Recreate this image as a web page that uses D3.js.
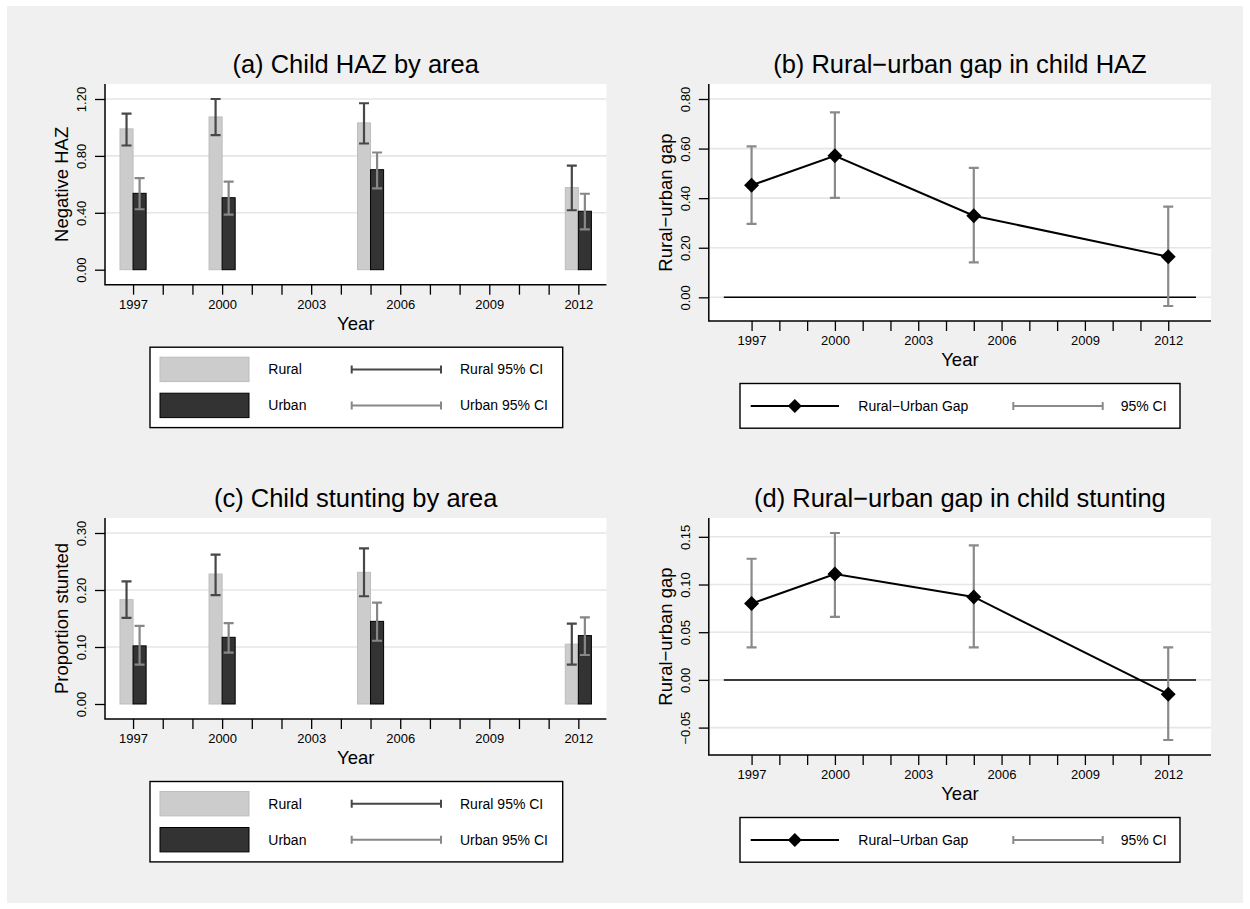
<!DOCTYPE html>
<html>
<head>
<meta charset="utf-8">
<script src="https://cdn.jsdelivr.net/npm/d3@7"></script>
<style>
  body { margin: 0; background: #fff; }
  text { font-family: "Liberation Sans", Arial, Helvetica, sans-serif; fill: #000; }
</style>
</head>
<body>
<svg id="chart" width="1250" height="909"></svg>
<script>
// data
// -----------------------------------------------------------
const years = [1997, 2000, 2005, 2012];

// (a) negative HAZ by area
const hazRural   = [0.990, 1.074, 1.032, 0.577];
const hazRuralLo = [0.873, 0.946, 0.887, 0.418];
const hazRuralHi = [1.097, 1.200, 1.170, 0.731];
const hazUrban   = [0.537, 0.506, 0.703, 0.411];
const hazUrbanLo = [0.425, 0.387, 0.572, 0.284];
const hazUrbanHi = [0.644, 0.619, 0.824, 0.534];

// (b) rural-urban gap in HAZ
const hazGap   = [0.452, 0.571, 0.329, 0.164];
const hazGapLo = [0.296, 0.401, 0.141, -0.035];
const hazGapHi = [0.609, 0.746, 0.522, 0.366];

// (c) proportion stunted by area
const stRural   = [0.183, 0.228, 0.231, 0.105];
const stRuralLo = [0.151, 0.191, 0.189, 0.069];
const stRuralHi = [0.215, 0.262, 0.273, 0.141];
const stUrban   = [0.102, 0.117, 0.145, 0.120];
const stUrbanLo = [0.069, 0.090, 0.111, 0.086];
const stUrbanHi = [0.137, 0.142, 0.178, 0.152];

// (d) rural-urban gap in stunting
const stGap   = [0.080, 0.111, 0.087, -0.015];
const stGapLo = [0.034, 0.066, 0.034, -0.063];
const stGapHi = [0.127, 0.154, 0.141, 0.034];

// axis ticks
const hazTicks = [0, 0.4, 0.8, 1.2];
const hazGapTicks = [0, 0.2, 0.4, 0.6, 0.8];
const stTicks = [0, 0.1, 0.2, 0.3];
const stGapTicks = [-0.05, 0, 0.05, 0.1, 0.15];
const yearTicks = [1997, 1998, 1999, 2000, 2001, 2002, 2003, 2004,
                   2005, 2006, 2007, 2008, 2009, 2010, 2011, 2012];
const yearLabels = [1997, 2000, 2003, 2006, 2009, 2012];
const zeroSpan = [1996, 2013];

// style
// -----------------------------------------------------------
const ruralFill = "#cccccc",
      ruralEdge = "#bdbdbd",
      urbanFill = "#333333",
      ruralCI = "#474747",
      urbanCI = "#878787",
      gapCI = "#8a8a8a",
      gridColor = "#e6e6e6",
      barW = 0.44,
      capW = 10,
      pad = 15;

const svg = d3.select("#chart");
const fmt = d3.format(".2f");

svg.append("rect")
    .attr("x", 7).attr("y", 6)
    .attr("width", 1236).attr("height", 897)
    .attr("fill", "#f0f0f0");

// shared panel frame
// -----------------------------------------------------------
function panel(box, xDomain, yTicks, yValues, title, yTitle, gridZero) {
    let g = svg.append("g");
    let x = d3.scaleLinear()
        .domain(xDomain)
        .range([box.x0 + pad, box.x1 - pad]);
    let y = d3.scaleLinear()
        .domain(d3.extent(yTicks.concat(yValues)))
        .range([box.y1 - pad, box.y0 + pad]);

    g.append("rect")
        .attr("x", box.x0).attr("y", box.y0)
        .attr("width", box.x1 - box.x0).attr("height", box.y1 - box.y0)
        .attr("fill", "#fff");

    g.selectAll(".grid")
        .data(yTicks.filter(d => gridZero || d !== 0))
        .enter()
        .append("line")
            .attr("class", "grid")
            .attr("x1", box.x0).attr("x2", box.x1)
            .attr("y1", d => y(d)).attr("y2", d => y(d))
            .attr("stroke", gridColor)
            .attr("stroke-width", 1.6);

    let cx = (box.x0 + box.x1) / 2;
    svg.append("text")
        .attr("x", cx).attr("y", box.y0 - 11)
        .attr("text-anchor", "middle")
        .attr("font-size", 25.5)
        .text(title);
    svg.append("text")
        .attr("x", cx).attr("y", box.y1 + 45)
        .attr("text-anchor", "middle")
        .attr("font-size", 18.5)
        .text("Year");
    svg.append("text")
        .attr("transform", `translate(${box.x0 - 37},${(box.y0 + box.y1) / 2}) rotate(-90)`)
        .attr("text-anchor", "middle")
        .attr("font-size", 18.5)
        .text(yTitle);

    return {g, x, y, box, yTicks};
}

function axes(p) {
    let yAxis = d3.axisLeft(p.y)
        .tickValues(p.yTicks)
        .tickSize(10)
        .tickSizeOuter(0)
        .tickFormat(fmt);
    let ya = svg.append("g")
        .attr("transform", `translate(${p.box.x0},0)`)
        .call(yAxis);
    ya.select(".domain").remove();
    ya.selectAll(".tick line").attr("stroke", "#000").attr("stroke-width", 1.3);
    ya.selectAll(".tick text")
        .attr("transform", "rotate(-90)")
        .attr("x", 0).attr("y", -19).attr("dy", 0)
        .attr("text-anchor", "middle")
        .attr("font-size", 13)
        .attr("font-family", "Liberation Sans, Arial, sans-serif");

    let xAxis = d3.axisBottom(p.x)
        .tickValues(yearTicks)
        .tickSize(10)
        .tickSizeOuter(0)
        .tickPadding(5)
        .tickFormat(d => yearLabels.includes(d) ? d : "");
    let xa = svg.append("g")
        .attr("transform", `translate(0,${p.box.y1})`)
        .call(xAxis);
    xa.select(".domain").remove();
    xa.selectAll(".tick line").attr("stroke", "#000").attr("stroke-width", 1.3);
    xa.selectAll(".tick text")
        .attr("font-size", 13)
        .attr("font-family", "Liberation Sans, Arial, sans-serif");

    svg.append("path")
        .attr("d", `M${p.box.x0},${p.box.y0}V${p.box.y1}H${p.box.x1}`)
        .attr("fill", "none")
        .attr("stroke", "#000")
        .attr("stroke-width", 1.5);
}

function errorBars(p, xs, lo, hi, color) {
    let eb = p.g.append("g")
        .attr("stroke", color)
        .attr("stroke-width", 2.2)
        .attr("fill", "none");
    xs.forEach((xv, i) => {
        let px = p.x(xv), y1 = p.y(lo[i]), y2 = p.y(hi[i]);
        eb.append("path")
            .attr("d", `M${px},${y1}V${y2}M${px - capW / 2},${y1}H${px + capW / 2}M${px - capW / 2},${y2}H${px + capW / 2}`);
    });
}

// bar panels (a), (c)
// -----------------------------------------------------------
function barPanel(box, ticks, rural, rLo, rHi, urban, uLo, uHi, title, yTitle) {
    let xDomain = [years[0] - barW, years[years.length - 1] + barW];
    let p = panel(box, xDomain, ticks, [0].concat(rHi, uHi, rLo, uLo), title, yTitle, false);
    let bw = p.x(barW) - p.x(0);

    p.g.selectAll(".rural")
        .data(years)
        .enter()
        .append("rect")
            .attr("x", d => p.x(d - barW))
            .attr("width", bw)
            .attr("y", (d, i) => p.y(rural[i]))
            .attr("height", (d, i) => p.y(0) - p.y(rural[i]))
            .attr("fill", ruralFill)
            .attr("stroke", ruralEdge)
            .attr("stroke-width", 1);

    p.g.selectAll(".urban")
        .data(years)
        .enter()
        .append("rect")
            .attr("x", d => p.x(d))
            .attr("width", bw)
            .attr("y", (d, i) => p.y(urban[i]))
            .attr("height", (d, i) => p.y(0) - p.y(urban[i]))
            .attr("fill", urbanFill)
            .attr("stroke", "#000")
            .attr("stroke-width", 1);

    errorBars(p, years.map(d => d - barW / 2), rLo, rHi, ruralCI);
    errorBars(p, years.map(d => d + barW / 2), uLo, uHi, urbanCI);
    axes(p);

    // legend
    let L = 150, T = box.y1 + 62.5;
    let lg = svg.append("g").attr("font-size", 14);
    lg.append("rect")
        .attr("x", L).attr("y", T).attr("width", 412.7).attr("height", 80.4)
        .attr("fill", "#fff").attr("stroke", "#000").attr("stroke-width", 1.4);
    [[ruralFill, ruralEdge, "Rural", ruralCI, "Rural 95% CI"],
     [urbanFill, "#000", "Urban", urbanCI, "Urban 95% CI"]].forEach((r, i) => {
        let cy = T + 22.2 + i * 36;
        lg.append("rect")
            .attr("x", L + 10).attr("y", cy - 12.2).attr("width", 89).attr("height", 24.4)
            .attr("fill", r[0]).attr("stroke", r[1]).attr("stroke-width", 1);
        lg.append("text").attr("x", L + 118.3).attr("y", cy + 5).text(r[2]);
        lg.append("path")
            .attr("d", `M${L + 201.7},${cy}H${L + 291}M${L + 201.7},${cy - 4}V${cy + 4}M${L + 291},${cy - 4}V${cy + 4}`)
            .attr("stroke", r[3]).attr("stroke-width", 2).attr("fill", "none");
        lg.append("text").attr("x", L + 310).attr("y", cy + 5).text(r[4]);
    });
}

// gap panels (b), (d)
// -----------------------------------------------------------
function gapPanel(box, ticks, gap, lo, hi, title) {
    let p = panel(box, zeroSpan, ticks, lo.concat(hi, gap), title, "Rural\u2212urban gap", true);

    p.g.append("line")
        .attr("x1", p.x(zeroSpan[0])).attr("x2", p.x(zeroSpan[1]))
        .attr("y1", p.y(0)).attr("y2", p.y(0))
        .attr("stroke", "#000").attr("stroke-width", 1.5);

    errorBars(p, years, lo, hi, gapCI);

    let line = d3.line()
        .x((d, i) => p.x(years[i]))
        .y(d => p.y(d));
    p.g.append("path")
        .datum(gap)
        .attr("d", line)
        .attr("fill", "none")
        .attr("stroke", "#000")
        .attr("stroke-width", 2);

    p.g.selectAll(".pt")
        .data(gap)
        .enter()
        .append("path")
            .attr("d", d3.symbol(d3.symbolSquare, 112))
            .attr("transform", (d, i) => `translate(${p.x(years[i])},${p.y(d)}) rotate(45)`)
            .attr("fill", "#000");
    axes(p);

    // legend
    let L = 740, T = box.y1 + 62.5, cy = T + 22.4;
    let lg = svg.append("g").attr("font-size", 14);
    lg.append("rect")
        .attr("x", L).attr("y", T).attr("width", 440).attr("height", 44.7)
        .attr("fill", "#fff").attr("stroke", "#000").attr("stroke-width", 1.4);
    lg.append("line")
        .attr("x1", L + 10.7).attr("x2", L + 99).attr("y1", cy).attr("y2", cy)
        .attr("stroke", "#000").attr("stroke-width", 2);
    lg.append("path")
        .attr("d", d3.symbol(d3.symbolSquare, 98))
        .attr("transform", `translate(${L + 54.8},${cy}) rotate(45)`)
        .attr("fill", "#000");
    lg.append("text").attr("x", L + 118.3).attr("y", cy + 5).text("Rural\u2212Urban Gap");
    lg.append("path")
        .attr("d", `M${L + 273.3},${cy}H${L + 362.7}M${L + 273.3},${cy - 4}V${cy + 4}M${L + 362.7},${cy - 4}V${cy + 4}`)
        .attr("stroke", gapCI).attr("stroke-width", 2).attr("fill", "none");
    lg.append("text").attr("x", L + 380.7).attr("y", cy + 5).text("95% CI");
}

barPanel({x0: 105, x1: 606.4, y0: 84, y1: 284.7}, hazTicks,
    hazRural, hazRuralLo, hazRuralHi, hazUrban, hazUrbanLo, hazUrbanHi,
    "(a) Child HAZ by area", "Negative HAZ");
gapPanel({x0: 708.8, x1: 1211, y0: 84, y1: 321}, hazGapTicks,
    hazGap, hazGapLo, hazGapHi, "(b) Rural\u2212urban gap in child HAZ");
barPanel({x0: 105, x1: 606.4, y0: 518, y1: 719}, stTicks,
    stRural, stRuralLo, stRuralHi, stUrban, stUrbanLo, stUrbanHi,
    "(c) Child stunting by area", "Proportion stunted");
gapPanel({x0: 708.8, x1: 1211, y0: 518, y1: 755}, stGapTicks,
    stGap, stGapLo, stGapHi, "(d) Rural\u2212urban gap in child stunting");
</script>
</body>
</html>
